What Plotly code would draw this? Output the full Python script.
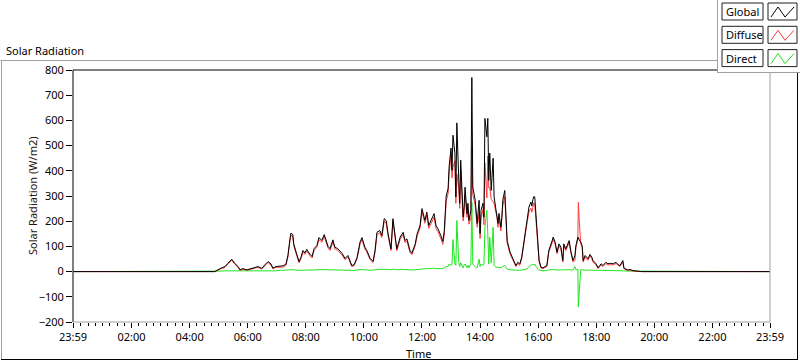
import plotly.graph_objects as go

# ---------------- data ----------------
times = ["00:00", "04:42", "04:52", "05:03", "05:13", "05:19", "05:27", "05:33", "05:40", "05:44",
         "05:50", "05:58", "06:05", "06:11", "06:21", "06:29", "06:36", "06:42", "06:48", "06:52",
         "06:58", "07:07", "07:13", "07:19", "07:23", "07:27", "07:29", "07:33", "07:35", "07:40",
         "07:44", "07:46", "07:50", "07:54", "07:58", "08:02", "08:08", "08:13", "08:17", "08:23",
         "08:27", "08:33", "08:38", "08:42", "08:46", "08:50", "08:56", "09:00", "09:06", "09:15",
         "09:21", "09:27", "09:35", "09:40", "09:46", "09:52", "09:56", "10:02", "10:06", "10:13",
         "10:19", "10:23", "10:27", "10:33", "10:37", "10:42", "10:46", "10:50", "10:56", "11:00",
         "11:06", "11:08", "11:15", "11:21", "11:25", "11:29", "11:35", "11:39", "11:46", "11:50",
         "11:56", "12:00", "12:06", "12:10", "12:14", "12:21", "12:25", "12:29", "12:33", "12:39",
         "12:43", "12:46", "12:48", "12:50", "12:54", "12:56", "13:00", "13:02", "13:04", "13:08",
         "13:10", "13:12", "13:16", "13:18", "13:20", "13:25", "13:27", "13:29", "13:33", "13:35",
         "13:37", "13:41", "13:43", "13:45", "13:50", "13:52", "13:54", "13:58", "14:00", "14:02",
         "14:06", "14:08", "14:10", "14:14", "14:16", "14:18", "14:20", "14:23", "14:27", "14:29",
         "14:31", "14:35", "14:37", "14:39", "14:43", "14:45", "14:47", "14:51", "14:54", "14:56",
         "15:02", "15:06", "15:10", "15:14", "15:18", "15:22", "15:26", "15:29", "15:33", "15:37",
         "15:41", "15:45", "15:47", "15:49", "15:51", "15:53", "15:56", "15:58", "16:00", "16:02",
         "16:06", "16:10", "16:18", "16:22", "16:29", "16:31", "16:35", "16:39", "16:43", "16:47",
         "16:51", "16:53", "16:57", "17:02", "17:04", "17:08", "17:12", "17:16", "17:18", "17:22",
         "17:23", "17:25", "17:28", "17:31", "17:33", "17:37", "17:41", "17:43", "17:47", "17:51",
         "17:53", "17:59", "18:04", "18:10", "18:14", "18:20", "18:24", "18:30", "18:35", "18:41",
         "18:45", "18:49", "18:55", "18:57", "19:04", "19:10", "19:16", "19:24", "19:28", "19:34",
         "23:59"]

global_rad = [0, 0, 0, 12, 20, 33, 49, 33, 20, 7,
              12, 7, 10, 14, 20, 13, 28, 40, 30, 14,
              20, 23, 23, 30, 64, 125, 152, 148, 110, 77,
              50, 40, 57, 84, 74, 88, 70, 60, 91, 104,
              135, 124, 147, 124, 100, 91, 126, 97, 91, 72,
              52, 64, 24, 28, 57, 117, 135, 97, 84, 52,
              41, 84, 156, 163, 143, 210, 203, 150, 90, 210,
              117, 90, 137, 156, 123, 130, 84, 73, 110, 150,
              183, 250, 203, 236, 183, 216, 230, 183, 170, 143,
              120, 160, 230, 300, 330, 415, 490, 402, 541, 470,
              296, 590, 362, 271, 442, 216, 256, 335, 230, 271,
              203, 243, 770, 335, 283, 243, 191, 283, 151, 243,
              271, 216, 608, 535, 608, 362, 470, 322, 450, 296,
              271, 231, 191, 231, 176, 216, 283, 322, 191, 123,
              77, 57, 37, 24, 37, 30, 57, 90, 150, 203,
              256, 276, 260, 285, 298, 296, 200, 130, 80, 44,
              17, 15, 24, 84, 123, 137, 117, 77, 110, 97,
              44, 110, 90, 117, 123, 77, 44, 64, 103, 137,
              135, 125, 117, 103, 44, 64, 57, 51, 68, 57,
              44, 33, 15, 31, 24, 37, 31, 33, 31, 37,
              28, 24, 44, 15, 7, 8, 4, 3, 1, 0,
              0]

diffuse_rad = [0, 0, 0, 10, 17, 30, 46, 30, 17, 5,
               10, 5, 8, 12, 17, 10, 24, 36, 26, 11,
               17, 18, 18, 25, 58, 118, 144, 140, 103, 71,
               45, 35, 51, 77, 68, 81, 64, 54, 84, 97,
               127, 116, 139, 116, 93, 84, 118, 90, 84, 66,
               47, 58, 20, 24, 51, 109, 127, 90, 77, 47,
               36, 77, 147, 154, 135, 200, 193, 141, 83, 200,
               109, 83, 128, 147, 115, 121, 77, 67, 102, 141,
               173, 238, 192, 224, 172, 203, 216, 171, 158, 131,
               108, 145, 212, 280, 310, 385, 465, 372, 414, 440,
               271, 387, 327, 251, 407, 201, 231, 305, 215, 246,
               188, 213, 494, 305, 263, 228, 176, 233, 131, 213,
               246, 186, 432, 292, 458, 332, 333, 287, 274, 271,
               251, 216, 176, 213, 161, 199, 263, 297, 176, 113,
               70, 51, 32, 20, 32, 25, 51, 83, 141, 193,
               236, 251, 235, 255, 273, 266, 180, 118, 72, 38,
               14, 12, 20, 77, 115, 128, 109, 71, 102, 90,
               38, 102, 83, 109, 115, 71, 38, 44, 95, 128,
               275, 200, 109, 96, 38, 58, 51, 45, 62, 51,
               38, 28, 12, 27, 20, 32, 27, 28, 27, 32,
               24, 20, 38, 12, 5, 6, 2, 1, 0, 0,
               0]

direct_rad = [0, 0, 0, 2, 3, 3, 3, 3, 3, 2,
              2, 2, 2, 2, 3, 3, 4, 4, 4, 3,
              3, 5, 5, 5, 6, 7, 8, 8, 7, 6,
              5, 5, 6, 7, 6, 7, 6, 6, 7, 7,
              8, 8, 8, 8, 7, 7, 8, 7, 7, 6,
              5, 6, 4, 4, 6, 8, 8, 7, 7, 5,
              5, 7, 9, 9, 8, 10, 10, 9, 7, 10,
              8, 7, 9, 9, 8, 9, 7, 6, 8, 9,
              10, 12, 11, 12, 11, 13, 14, 12, 12, 12,
              12, 15, 18, 20, 20, 30, 25, 30, 127, 30,
              25, 203, 35, 20, 35, 15, 25, 30, 15, 25,
              15, 30, 276, 30, 20, 15, 15, 50, 20, 30,
              25, 30, 176, 243, 150, 30, 137, 35, 176, 25,
              20, 15, 15, 18, 15, 17, 20, 25, 15, 10,
              7, 6, 5, 4, 5, 5, 6, 7, 9, 10,
              20, 25, 25, 30, 25, 30, 20, 12, 8, 6,
              3, 3, 4, 7, 8, 9, 8, 6, 8, 7,
              6, 8, 7, 8, 8, 6, 6, 20, 8, 9,
              -140, -75, 8, 7, 6, 6, 6, 6, 6, 6,
              6, 5, 3, 4, 4, 5, 4, 5, 4, 5,
              4, 4, 6, 3, 2, 2, 2, 2, 1, 0,
              0]

series_names = ["Global", "Diffuse", "Direct"]
series_colors = ["#000000", "#ff3c3c", "#1ee61e"]
tick_labels = ["23:59", "02:00", "04:00", "06:00", "08:00", "10:00", "12:00",
               "14:00", "16:00", "18:00", "20:00", "22:00", "23:59"]
tick_times = ["2023-12-31 23:59", "2024-01-01 02:00", "2024-01-01 04:00", "2024-01-01 06:00",
              "2024-01-01 08:00", "2024-01-01 10:00", "2024-01-01 12:00", "2024-01-01 14:00",
              "2024-01-01 16:00", "2024-01-01 18:00", "2024-01-01 20:00", "2024-01-01 22:00",
              "2024-01-01 23:59"]

x_dt = ["2024-01-01 " + t for t in times]
FONT = "Noto Sans"
FS = 11

fig = go.Figure()
# draw order: direct, diffuse, global (global on top)
for name, vals, col in [("Direct", direct_rad, series_colors[2]),
                        ("Diffuse", diffuse_rad, series_colors[1]),
                        ("Global", global_rad, series_colors[0])]:
    fig.add_trace(go.Scatter(x=x_dt, y=vals, mode="lines", name=name,
                             line=dict(color=col, width=1), showlegend=False,
                             hoverinfo="skip"))

# pixel -> paper helpers (plot area: x 73..770, y 70..322)
L, R, T, B = 73, 770, 70, 322
def px(x):
    return (x - L) / (R - L)
def py(y):
    return (B - y) / (B - T)

shapes = []
def line(x0, y0, x1, y1, color, w=1):
    shapes.append(dict(type="line", xref="paper", yref="paper",
                       x0=px(x0), y0=py(y0), x1=px(x1), y1=py(y1),
                       line=dict(color=color, width=w)))
def rect(x0, y0, x1, y1, color, fill="white", w=1):
    shapes.append(dict(type="rect", xref="paper", yref="paper",
                       x0=px(x0), y0=py(y0), x1=px(x1), y1=py(y1),
                       line=dict(color=color, width=w), fillcolor=fill))

# outer panel (sunken frame)
line(0.5, 60.5, 717, 60.5, "#a0a0a0")
line(1.5, 60.5, 1.5, 360, "#a0a0a0")
line(1, 359.5, 798, 359.5, "#000000")
line(797.5, 72, 797.5, 360, "#000000")
# plot area border
line(L, T, R, T, "#000000")
line(L, T, L, B, "#000000")
line(L, B, R, B, "#a0a0a0")
line(R, T, R, B, "#a0a0a0")

# legend panel
rect(717, -1, 801, 72, "rgba(0,0,0,0)", fill="white", w=0)
line(717.5, 0, 717.5, 72, "#a0a0a0")
line(717, 72.5, 800, 72.5, "#a0a0a0")

annotations = []
for i, (nm, col) in enumerate(zip(series_names, series_colors)):
    y0 = 3 + i * 23.3
    y1 = y0 + 17
    rect(722, y0, 763, y1, "#202020")
    rect(768, y0, 797, y1, "#202020")
    pts = [(771, y1 - 3), (778, y0 + 4), (785, y1 - 3), (794, y0 + 4)]
    path = "M " + " L ".join(f"{px(a)},{py(b)}" for a, b in pts)
    shapes.append(dict(type="path", xref="paper", yref="paper", path=path,
                       line=dict(color=col, width=1)))
    annotations.append(dict(x=px(724), y=py((y0 + y1) / 2), xref="paper", yref="paper",
                            text=nm, showarrow=False, xanchor="left", yanchor="middle",
                            font=dict(family=FONT, size=FS, color="black")))

annotations.append(dict(x=px(4), y=py(50), xref="paper", yref="paper",
                        text="Solar Radiation", showarrow=False, xanchor="left",
                        yanchor="middle", font=dict(family=FONT, size=FS, color="black")))
annotations.append(dict(x=px(32), y=0.5, xref="paper", yref="paper",
                        text="Solar Radiation (W/m2)", showarrow=False, textangle=-90,
                        xanchor="center", yanchor="middle",
                        font=dict(family=FONT, size=FS, color="#2a1408")))
annotations.append(dict(x=px(418), y=py(353), xref="paper", yref="paper",
                        text="Time", showarrow=False, xanchor="center", yanchor="middle",
                        font=dict(family=FONT, size=FS, color="black")))

fig.update_layout(
    width=800, height=361, autosize=False,
    margin=dict(l=L, r=800 - R, t=T, b=361 - B, pad=0),
    paper_bgcolor="white", plot_bgcolor="white",
    font=dict(family=FONT, size=FS, color="black"),
    shapes=shapes, annotations=annotations,
    xaxis=dict(type="date", range=["2023-12-31 23:59", "2024-01-01 23:59"],
               tickmode="array", tickvals=tick_times, ticktext=tick_labels,
               ticks="outside", ticklen=5, tickwidth=1, tickcolor="black",
               showgrid=False, zeroline=False, showline=False,
               tickfont=dict(family=FONT, size=FS, color="black"),
               minor=dict(ticks="outside", ticklen=3, tickwidth=1, tickcolor="black",
                          tickmode="linear", tick0="2024-01-01 00:00",
                          dtick=15 * 60 * 1000, showgrid=False)),
    yaxis=dict(range=[-200, 800], tickmode="linear", tick0=-200, dtick=100,
               ticks="outside", ticklen=6, tickwidth=1, tickcolor="black",
               showgrid=False, zeroline=False, showline=False,
               tickfont=dict(family=FONT, size=FS, color="black")),
)

fig.write_html("out.html", config={"displayModeBar": False, "staticPlot": True},
               post_script="document.body.style.margin='0';document.body.style.overflow='hidden';")
